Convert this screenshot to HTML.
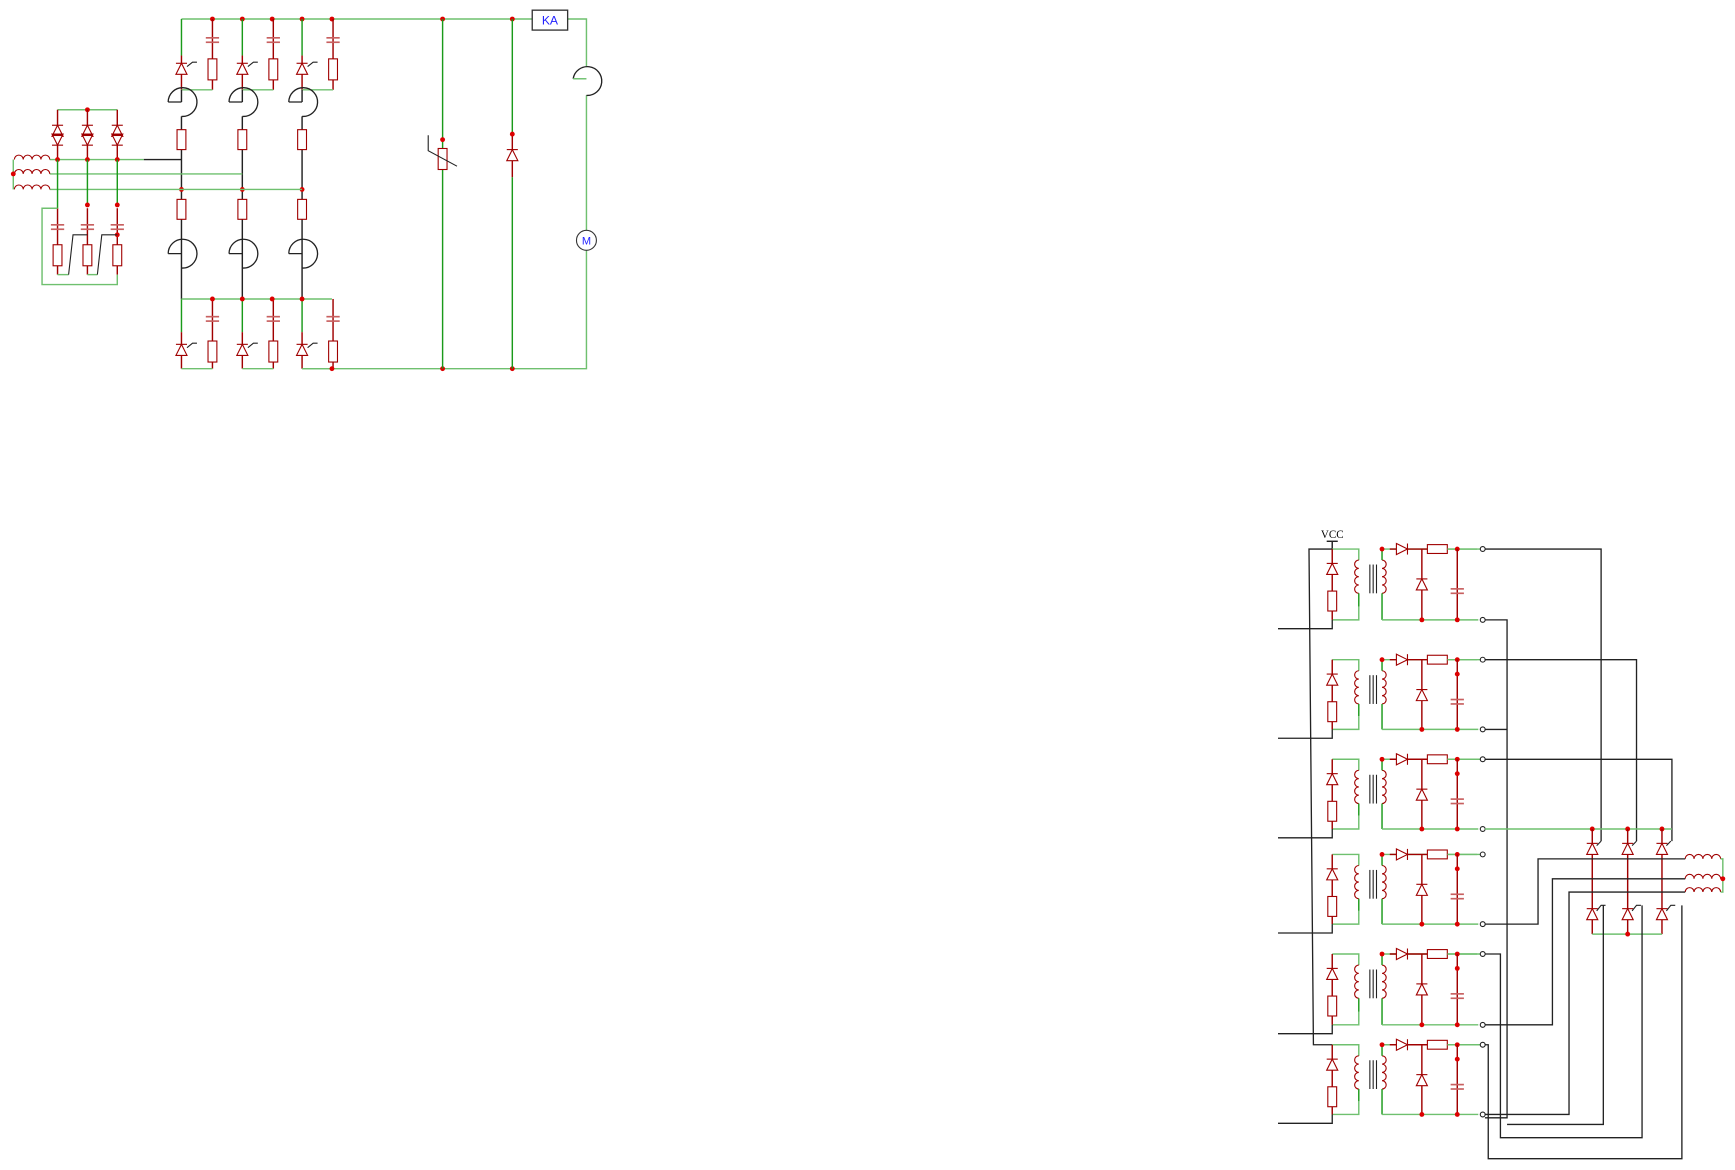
<!DOCTYPE html>
<html><head><meta charset="utf-8">
<style>html,body{margin:0;padding:0;background:#fff;width:1735px;height:1170px;overflow:hidden}
svg{display:block}
text{font-family:"Liberation Sans",sans-serif}
</style></head><body>
<svg id="s" width="1735" height="1170" viewBox="0 0 1568 1057" xmlns="http://www.w3.org/2000/svg" fill="none" stroke-linecap="butt">
<g id="g"></g>
<rect x="481" y="9" width="32" height="18" fill="#fff" stroke="#333" stroke-width="1.2"/>
<text x="497" y="22" font-size="11" fill="#22f" text-anchor="middle" stroke="none">KA</text>
<circle cx="530" cy="217" r="9" fill="#fff" stroke="#333" stroke-width="1"/>
<text x="530" y="221" font-size="10" fill="#22f" text-anchor="middle" stroke="none">M</text>
<text x="1204" y="486" font-size="10" fill="#000" text-anchor="middle" stroke="none" style="font-family:'Liberation Serif',serif">VCC</text>
</svg>
<script>
var G=document.getElementById('g'),NS='http://www.w3.org/2000/svg';
function el(t,a){var e=document.createElementNS(NS,t);for(var k in a)e.setAttribute(k,a[k]);G.appendChild(e);return e}
var GR='#6fc06f',DG='#1a9a1a',RD='#a00000',PK='#c86060',BK='#222';
function L(p,c,w){el('polyline',{points:p,stroke:c||GR,'stroke-width':w||1.3,fill:'none'})}
function D(x,y){el('circle',{cx:x,cy:y,r:2.2,fill:'#d00',stroke:'none'})}
function R(x,y1,y2,hw){hw=hw||4;el('rect',{x:x-hw,y:y1,width:2*hw,height:y2-y1,stroke:RD,'stroke-width':1,fill:'#fff'})}
function RH(x1,x2,y){el('rect',{x:x1,y:y-4,width:x2-x1,height:8,stroke:RD,'stroke-width':1,fill:'#fff'})}
function C(x,y,hw){hw=hw||6;L((x-hw)+','+(y-2)+' '+(x+hw)+','+(y-2),PK,1.5);L((x-hw)+','+(y+2)+' '+(x+hw)+','+(y+2),PK,1.5)}
function T(x,y,s){s=s||5;el('polygon',{points:(x-s)+','+(y+s)+' '+(x+s)+','+(y+s)+' '+x+','+(y-s),stroke:RD,'stroke-width':1,fill:'#fff'});L((x-s)+','+(y-s)+' '+(x+s)+','+(y-s),RD,1)}
function TD(x,y,s){s=s||5;el('polygon',{points:(x-s)+','+(y-s)+' '+(x+s)+','+(y-s)+' '+x+','+(y+s),stroke:RD,'stroke-width':1,fill:'#fff'});L((x-s)+','+(y+s)+' '+(x+s)+','+(y+s),RD,1)}
function TR(x,y){el('polygon',{points:(x-5)+','+(y-5)+' '+(x-5)+','+(y+5)+' '+(x+5)+','+y,stroke:RD,'stroke-width':1,fill:'#fff'});L((x+5)+','+(y-5)+' '+(x+5)+','+(y+5),RD,1)}
function coilV(x,y1,y2){var n=4,h=(y2-y1)/n,d='M'+x+','+y1;for(var i=0;i<n;i++)d+=' a'+(h/2)+','+(h/2)+' 0 0,1 0,'+h;el('path',{d:d,stroke:RD,'stroke-width':1})}
function coilVL(x,y1,y2){var n=4,h=(y2-y1)/n,d='M'+x+','+y1;for(var i=0;i<n;i++)d+=' a'+(h/2)+','+(h/2)+' 0 0,0 0,'+h;el('path',{d:d,stroke:RD,'stroke-width':1})}
function coilH(x1,x2,y){var n=4,w=(x2-x1)/n,d='M'+x1+','+y;for(var i=0;i<n;i++)d+=' a'+(w/2)+','+(w/2)+' 0 0,1 '+w+',0';el('path',{d:d,stroke:RD,'stroke-width':1})}
function arc(x,y){el('path',{d:'M'+(x-12)+','+(y)+' L'+x+','+y+' M'+(x-12)+','+y+' A13,13 0 1,1 '+x+','+(y+13),stroke:BK,'stroke-width':1.2})}
function O(x,y){el('circle',{cx:x,cy:y,r:2.2,stroke:BK,'stroke-width':1,fill:'#fff'})}

L('164,17 481,17');L('513,17 530,17 530,60');L('530,86 530,333 273,333');
el('path',{d:'M518,71 A13,13 0 1,1 530,86',stroke:BK,'stroke-width':1.2});L('518,71 530,71',GR);
[192,219,246,273,300,400,463].forEach(function(x){D(x,17)});
[164,219,273].forEach(function(x,i){var rx=x+28;
 L(x+',17 '+x+',50',DG);L(x+',50 '+x+',81',RD);T(x,62);L((x+5)+',60 '+(x+10)+',56 '+(x+14)+',56',BK,1);
 L(rx+',17 '+rx+',81',RD);C(rx,36);R(rx,53,72);L(x+',81 '+rx+',81');
 arc(x,92);L(x+',81 '+x+',92',BK);
 L(x+',105 '+x+',270',BK);R(x,117,135);R(x,180,198);
 el('path',{d:'M'+(x-12)+',229 L'+x+',229 M'+(x-12)+',229 A13,13 0 1,1 '+x+',242',stroke:BK,'stroke-width':1.2});
 L(x+',270 '+x+',300',DG);L(x+',300 '+x+',333',RD);T(x,316);L((x+5)+',314 '+(x+10)+',310 '+(x+14)+',310',BK,1);
 L(rx+',270 '+rx+',333',RD);C(rx,288);R(rx,308,327);L(x+',333 '+rx+',333');
 D(x,171);
});
L('164,270 300,270');[192,219,246,273].forEach(function(x){D(x,270)});D(300,333);D(400,333);D(463,333);
L('400,17 400,126',DG);L('400,126 400,333',DG);R(400,134,153);L('387,122 387,136 413,150',BK,1);D(400,126);
L('463,17 463,121',DG);L('463,121 463,160',RD);L('463,160 463,333',DG);T(463,140);D(463,121);
L('45,144 130,144');L('130,144 164,144',BK);L('45,157 219,157');L('45,171 273,171');
coilH(13,45,144);coilH(13,45,157);coilH(13,45,171);L('12,144 12,171',GR);D(12,157);
L('52,99 106,99');D(79,99);
[52,79,106].forEach(function(x){L(x+',99 '+x+',144',RD);T(x,118,5);TD(x,126,5);L((x-5)+',122 '+(x+5)+',122',RD,1.5);D(x,144);});
L('52,144 52,188',DG);L('79,144 79,185',DG);L('106,144 106,185',DG);
[52,79,106].forEach(function(x){L(x+',188 '+x+',248',RD);C(x,205);R(x,221,240);});
D(79,185);D(106,185);D(106,212);
L('52,188 38,188 38,257 106,257 106,248');L('52,248 62,248');L('62,248 66,212 79,212',BK,1);L('79,248 88,248');L('88,248 92,212 106,212',BK,1);

var tops=[496,596,686,772,862,944],bots=[560,659,749,835,926,1007];
L('1204,489 1204,496',BK);L('1199,489 1209,489',BK);
L('1204,496 1183,496 1187,944 1204,944',BK,1.2);
tops.forEach(function(t,i){var b=bots[i];
 L('1204,'+t+' 1228,'+t+' 1228,'+(t+10));L('1228,'+(b-12)+' 1228,'+b+' 1204,'+b);
 L('1204,'+t+' 1204,'+b,RD);T(1204,t+18);R(1204,t+38,t+56);
 L('1155,'+(b+8)+' 1204,'+(b+8)+' 1204,'+b,BK,1.2);
 coilVL(1228,t+10,t+40);L('1228,'+(t+40)+' 1228,'+(b-12),DG);
 L('1238,'+(t+14)+' 1238,'+(t+40),BK,1);L('1241,'+(t+14)+' 1241,'+(t+40),BK,1);L('1244,'+(t+14)+' 1244,'+(t+40),BK,1);
 coilV(1249,t+10,t+40);L('1249,'+t+' 1249,'+(t+10),DG);L('1249,'+(t+40)+' 1249,'+b,DG);
 L('1249,'+t+' 1340,'+t,GR);L('1256,'+t+' 1290,'+t,RD);TR(1267,t);RH(1290,1308,t);L('1308,'+t+' 1335,'+t,GR);
 D(1249,t);D(1317,t);
 L('1285,'+t+' 1285,'+b,RD);T(1285,t+32);L('1317,'+t+' 1317,'+b,RD);C(1317,t+38);
 if(i>0)D(1317,t+13);
 L('1249,'+b+' 1336,'+b);D(1285,b);D(1317,b);
 O(1340,t);O(1340,b);
});
L('1342,496 1447,496 1447,760',BK,1.2);
L('1342,596 1479,596 1479,760',BK,1.2);
L('1342,686 1511,686 1511,760',BK,1.2);
L('1342,560 1362,560 1362,1010 1342,1010',BK,1.2);
L('1342,659 1362,659',BK,1.2);
L('1342,749 1511,749');
[1439,1471,1502].forEach(function(x,i){D(x,749);L(x+',749 '+x+',844',RD);T(x,767);T(x,826);
 L((x+4)+',764 '+(x+8)+',760',BK,1);L((x+4)+',823 '+(x+8)+',818 '+(x+12)+',818',BK,1);});
L('1439,844 1502,844');D(1471,844);
coilH(1523,1555,776);coilH(1523,1555,794);coilH(1523,1555,806);L('1555,776 1557,776 1557,806 1555,806');D(1557,794);
L('1342,835 1390,835 1390,776 1523,776',BK,1.2);
L('1342,926 1403,926 1403,794 1523,794',BK,1.2);
L('1342,1007 1418,1007 1418,806 1523,806',BK,1.2);
L('1342,862 1356,862 1356,1028 1484,1028 1484,818',BK,1.2);
L('1342,944 1345,944 1345,1047 1520,1047 1520,818',BK,1.2);
L('1362,1016 1449,1016 1449,818',BK,1.2);
</script>
</body></html>
